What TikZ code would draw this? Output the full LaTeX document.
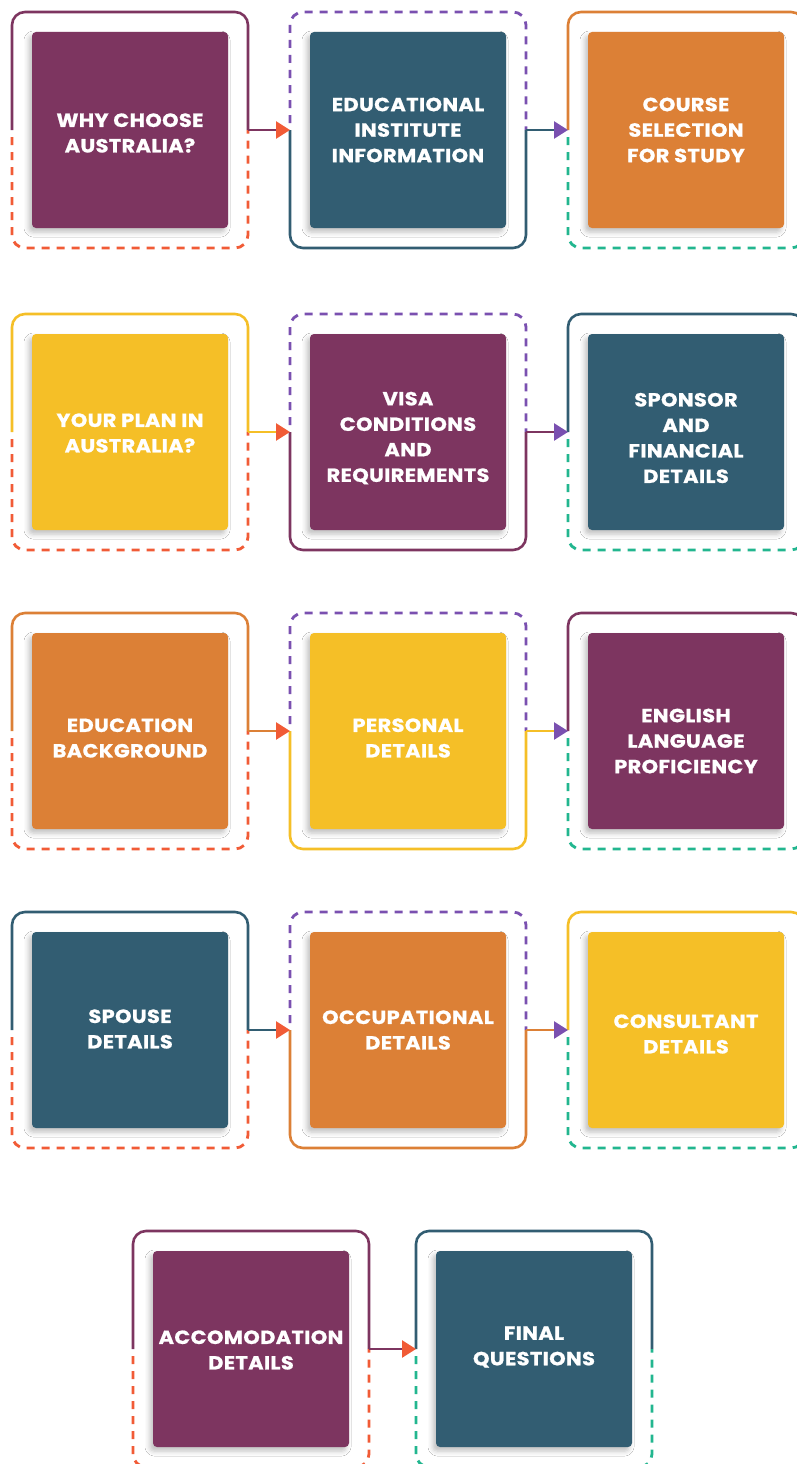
\documentclass[tikz,border=0pt]{standalone}
\usepackage{fontspec}
\newfontfamily\stepfont{Poppins}[FakeStretch=1.1, LetterSpace=2,
  BoldFeatures={FakeBold=1}]
\usetikzlibrary{arrows.meta, shadows.blur}

\definecolor{plum}{HTML}{7D3560}
\definecolor{slate}{HTML}{325D72}
\definecolor{amber}{HTML}{DC8036}
\definecolor{sun}{HTML}{F5BF27}
\definecolor{flame}{HTML}{F15B36}
\definecolor{lilac}{HTML}{7A50B0}
\definecolor{mint}{HTML}{22B68F}

\begin{document}
\begin{tikzpicture}[x=1pt, y=-1pt,
    % Node styles
    frame/.style={rectangle, minimum size=236pt, inner sep=0pt, outer sep=0pt},
    card/.style={rectangle, rounded corners=4pt, minimum size=196pt,
        inner sep=0pt, fill=#1,
        blur shadow={shadow xshift=-3pt, shadow yshift=-4pt,
            shadow blur radius=5pt, shadow opacity=25}},
    card text/.style={text=white, align=center, inner sep=0pt,
        font=\stepfont\bfseries\fontsize{19}{25.5}\selectfont},
    % Frame halves and links
    solid half/.style={draw=#1, line width=2.6pt, rounded corners=13pt},
    dashed half/.style={draw=#1, line width=2.8pt, rounded corners=13pt,
        dash pattern=on 8pt off 7pt, dash phase=8pt},
    link/.style 2 args={draw=#1, line width=2.6pt,
        -{Triangle[length=14pt, width=17pt, color=#2]}},
  ]
  \clip (0,0) rectangle (797,1464);
  \fill[white] (0,0) rectangle (797,1464);

  % --- cards ---
  \foreach \id/\cx/\cy/\dy/\clr/\txt in {
      11/130/130/3/plum/{WHY CHOOSE\\AUSTRALIA?},
      12/408/130/0/slate/{EDUCATIONAL\\INSTITUTE\\INFORMATION},
      13/686/130/0/amber/{COURSE\\SELECTION\\FOR STUDY},
      21/130/432/1/sun/{YOUR PLAN IN\\AUSTRALIA?},
      22/408/432/6/plum/{VISA\\CONDITIONS\\AND\\REQUIREMENTS},
      23/686/432/6/slate/{SPONSOR\\AND\\FINANCIAL\\DETAILS},
      31/130/731/7/amber/{EDUCATION\\BACKGROUND},
      32/408/731/7/sun/{PERSONAL\\DETAILS},
      33/686/731/10/plum/{ENGLISH\\LANGUAGE\\PROFICIENCY},
      41/130/1030/-1/slate/{SPOUSE\\DETAILS},
      42/408/1030/0/amber/{OCCUPATIONAL\\DETAILS},
      43/686/1030/4/sun/{CONSULTANT\\DETAILS},
      51/251/1349/1/plum/{ACCOMODATION\\DETAILS},
      52/534/1349/-2/slate/{FINAL\\QUESTIONS}} {
    \node[frame] (f\id) at (\cx,\cy) {};
    \node[card=\clr] (b\id) at (\cx,\cy) {};
    \node[card text] (t\id) at (\cx,\cy+\dy) {\txt};
  }

  % --- frames: solid top, dashed bottom ---
  \foreach \id/\clr/\dsh in {11/plum/flame, 21/sun/flame, 31/amber/flame,
      41/slate/flame, 51/plum/flame, 13/amber/mint, 23/slate/mint,
      33/plum/mint, 43/sun/mint, 52/slate/mint} {
    \draw[solid half=\clr] (f\id.west) |- (f\id.north east) -- (f\id.east);
    \draw[dashed half=\dsh] (f\id.west) |- (f\id.south east) -- (f\id.east);
  }
  % --- frames: dashed top, solid bottom ---
  \foreach \id/\clr in {12/slate, 22/plum, 32/sun, 42/amber} {
    \draw[dashed half=lilac] (f\id.west) |- (f\id.north east) -- (f\id.east);
    \draw[solid half=\clr] (f\id.west) |- (f\id.south east) -- (f\id.east);
  }

  % --- links ---
  \foreach \a/\b/\clr/\tip in {11/12/plum/flame, 12/13/slate/lilac,
      21/22/sun/flame, 22/23/plum/lilac, 31/32/amber/flame,
      32/33/sun/lilac, 41/42/slate/flame, 42/43/amber/lilac,
      51/52/plum/flame} {
    \draw[link={\clr}{\tip}] (f\a.east) -- (f\b.west);
  }
\end{tikzpicture}
\end{document}
